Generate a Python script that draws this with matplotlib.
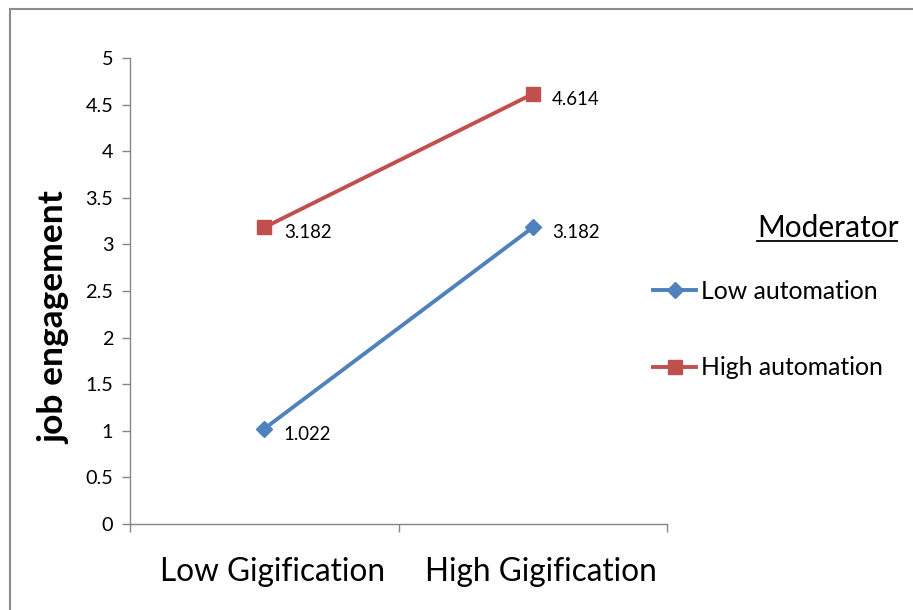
import matplotlib
matplotlib.use("Agg")
import matplotlib.pyplot as plt
from matplotlib.lines import Line2D
from matplotlib.transforms import ScaledTranslation

plt.rcParams['font.family'] = ['Lato', 'DejaVu Sans']

categories = ["Low Gigification", "High Gigification"]
series_names = ["Low automation", "High automation"]
low_automation = [1.022, 3.182]
high_automation = [3.182, 4.614]
y_ticks = [0, 0.5, 1, 1.5, 2, 2.5, 3, 3.5, 4, 4.5, 5]
y_tick_labels = ["0", "0.5", "1", "1.5", "2", "2.5", "3", "3.5", "4", "4.5", "5"]

BLUE = "#4F81BD"
RED = "#C0504D"
AX = "#868686"

W, H = 913, 610
fig = plt.figure(figsize=(W / 100, H / 100), dpi=100)
ax = fig.add_axes([130 / W, (H - 524) / H, 537 / W, 466 / H])

xs = [i + 0.5 for i in range(len(categories))]
l1, = ax.plot(xs, low_automation, color=BLUE, lw=2.8, marker="D", ms=8.5,
              markeredgecolor=BLUE, label=series_names[0])
l2, = ax.plot(xs, high_automation, color=RED, lw=2.8, marker="s", ms=9.5,
              markeredgecolor=RED, label=series_names[1])

for vals in (low_automation, high_automation):
    for x, v in zip(xs, vals):
        ax.annotate(f"{v:.3f}", (x, v), xytext=(14, -4), textcoords="offset points",
                    ha="left", va="center", fontsize=13.4, color="black")

ax.set_xlim(0, len(categories))
ax.set_ylim(0, 5)
ax.set_yticks(y_ticks)
ax.set_yticklabels(y_tick_labels, fontsize=14.3)
ax.set_xticks(range(len(categories) + 1))
ax.set_xticklabels([])
ax.set_xticks(xs, minor=True)
ax.set_xticklabels(categories, minor=True, fontsize=22.7)
ax.tick_params(axis="x", which="minor", length=0, pad=24)
ax.tick_params(axis="x", which="major", length=6, color=AX, width=1)
ax.tick_params(axis="y", length=6, color=AX, width=1, pad=6)
shift = ScaledTranslation(8 / 100, 0, fig.dpi_scale_trans)
for lab in ax.get_xticklabels(minor=True):
    lab.set_transform(lab.get_transform() + shift)

for s in ("top", "right"):
    ax.spines[s].set_visible(False)
for s in ("left", "bottom"):
    ax.spines[s].set_color(AX)
    ax.spines[s].set_linewidth(1)

ax.set_ylabel("job engagement", fontsize=25.5, fontweight="bold")
ax.yaxis.set_label_coords((70 - 130) / 537, (524 - 318) / 466)

leg = ax.legend(handles=[l1, l2], loc="upper left", bbox_to_anchor=(653 / W, (H - 280) / H),
                bbox_transform=fig.transFigure, frameon=False, fontsize=17.8,
                handlelength=1.75, handletextpad=0.2, labelspacing=2.15, borderpad=0, borderaxespad=0)

fig.text(757 / W, (H - 228) / H, "Moderator", fontsize=21.5, ha="left", va="center")
fig.add_artist(Line2D([757 / W, 897 / W], [(H - 241) / H, (H - 241) / H], color="black", lw=1.3))

# chart-area border (only top and left visible in reference)
fig.add_artist(Line2D([9.5 / W, 1.0], [(H - 8.5) / H, (H - 8.5) / H], color="#8c8c8c", lw=1.5))
fig.add_artist(Line2D([9.5 / W, 9.5 / W], [0, (H - 8.5) / H], color="#8c8c8c", lw=1.5))

fig.savefig("out.png", dpi=100, facecolor="white")
